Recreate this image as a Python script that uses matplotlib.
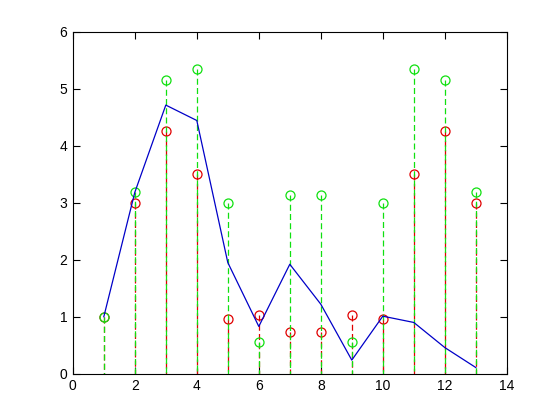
import matplotlib
matplotlib.use("Agg")
import matplotlib.pyplot as plt
import numpy as np

x = [1, 2, 3, 4, 5, 6, 7, 8, 9, 10, 11, 12, 13]
blue_line = [1.0, 3.18, 4.71, 4.44, 1.95, 0.83, 1.92, 1.22, 0.24, 1.01, 0.90, 0.46, 0.11]
red_stem = [1.0, 3.0, 4.25, 3.51, 0.96, 1.03, 0.73, 0.73, 1.03, 0.96, 3.51, 4.25, 3.0]
green_stem = [1.0, 3.18, 5.15, 5.34, 2.99, 0.55, 3.13, 3.13, 0.55, 2.99, 5.34, 5.15, 3.18]

xticks = [0, 2, 4, 6, 8, 10, 12, 14]
yticks = [0, 1, 2, 3, 4, 5, 6]

plt.rcParams['font.family'] = ['Liberation Sans', 'DejaVu Sans']

fig = plt.figure(figsize=(5.6, 4.2), dpi=100)
ax = fig.add_axes([0.13, 0.11, 0.775, 0.815])

blue = '#0000c8'
red = '#e00000'
green = '#10e010'

ax.plot(x, blue_line, color=blue, lw=0.9, zorder=3)

def stem(vals, color, z):
    for xi, yi in zip(x, vals):
        ax.plot([xi, xi], [yi, 0], color=color, lw=0.9, ls=(0, (4.8, 2.6)), zorder=z)
    ax.plot(x, vals, ls='none', marker='o', ms=6.5, mfc='none', mec=color, mew=0.9, zorder=z)

stem(red_stem, red, 2)
stem(green_stem, green, 2.5)

ax.set_xlim(0, 14)
ax.set_ylim(0, 6)
ax.set_xticks(xticks)
ax.set_yticks(yticks)
ax.tick_params(direction='in', top=True, right=True, length=5, width=0.8, labelsize=10, pad=4)
for s in ax.spines.values():
    s.set_linewidth(0.8)

fig.savefig('out.png', dpi=100)
